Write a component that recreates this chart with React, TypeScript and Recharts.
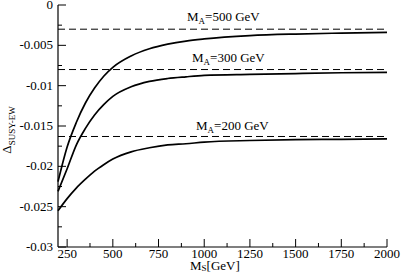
import React from 'react';
import { LineChart, Line, XAxis, YAxis, ReferenceLine } from 'recharts';

const FONT = 'Liberation Serif, DejaVu Serif, serif';
const textStyle = { fontFamily: FONT };

// M_S [GeV]
const MS = [200, 250, 300, 350, 400, 450, 500, 600, 700, 800, 900, 1000, 1250, 1500, 1750, 2000];
// Delta_SUSY-EW for each M_A
const MA500 = [-0.0219, -0.0176, -0.01457, -0.01215, -0.0103, -0.00883, -0.00773, -0.00632, -0.00543, -0.00486, -0.00447, -0.00421, -0.0038, -0.0036, -0.00348, -0.0034];
const MA300 = [-0.0231, -0.0203, -0.01736, -0.0153, -0.01364, -0.01236, -0.01133, -0.01014, -0.00947, -0.00911, -0.0089, -0.00873, -0.0086, -0.0085, -0.0084, -0.00835];
const MA200 = [-0.0255, -0.0240, -0.0227, -0.0216, -0.0206, -0.0198, -0.0191, -0.0182, -0.0177, -0.01735, -0.0172, -0.0170, -0.0168, -0.0167, -0.01665, -0.0166];

// asymptotic values (dashed)
const LIMITS = [
  { mA: '500', value: -0.003, dy: -8 },
  { mA: '300', value: -0.008, dy: -8 },
  { mA: '200', value: -0.0163, dy: -6.5 },
];
const LABEL_X: Record<string, number> = { '500': 187, '300': 192, '200': 196 };

const X_TICKS = [200, 250, 375, 500, 625, 750, 875, 1000, 1125, 1250, 1375, 1500, 1625, 1750, 1875, 2000];
const X_MAJOR = [250, 500, 750, 1000, 1250, 1500, 1750, 2000];
const Y_TICKS = [0, -0.0025, -0.005, -0.0075, -0.01, -0.0125, -0.015, -0.0175, -0.02, -0.0225, -0.025, -0.0275, -0.03];
const Y_MAJOR = [0, -0.005, -0.01, -0.015, -0.02, -0.025, -0.03];

const data = MS.map((ms, i) => ({ ms, a500: MA500[i], a300: MA300[i], a200: MA200[i] }));

const tickLen = (major: boolean) => (major ? 8 : 4);

const BottomTick = ({ x, y, payload }: any) => {
  if (payload.value === 200) return null;
  const major = X_MAJOR.includes(payload.value);
  return (
    <g>
      <line x1={x} x2={x} y1={y} y2={y - tickLen(major)} stroke="#000" />
      {major && (
        <text x={x} y={y + 10.5} textAnchor="middle" style={textStyle} fontSize={13} fill="#000">
          {payload.value}
        </text>
      )}
    </g>
  );
};

const TopTick = ({ x, y, payload }: any) => {
  if (payload.value === 200) return null;
  const major = X_MAJOR.includes(payload.value);
  return <line x1={x} x2={x} y1={y} y2={y + tickLen(major)} stroke="#000" />;
};

const LeftTick = ({ x, y, payload }: any) => {
  const major = Y_MAJOR.includes(payload.value);
  return (
    <g>
      <line x1={x} x2={x + tickLen(major)} y1={y} y2={y} stroke="#000" />
      {major && (
        <text x={x - 5} y={y + 4} textAnchor="end" style={textStyle} fontSize={13} fill="#000">
          {payload.value === 0 ? '0' : String(payload.value)}
        </text>
      )}
    </g>
  );
};

const RightTick = ({ x, y, payload }: any) => {
  const major = Y_MAJOR.includes(payload.value);
  return <line x1={x} x2={x - tickLen(major)} y1={y} y2={y} stroke="#000" />;
};

const MassLabel = ({ viewBox, mA, dy }: any) => (
  <text x={LABEL_X[mA]} y={viewBox.y + dy} style={textStyle} fontSize={13} fill="#000">
    <tspan>M</tspan>
    <tspan fontSize={9} dy={3}>A</tspan>
    <tspan dy={-3}>{`=${mA} GeV`}</tspan>
  </text>
);

const XTitle = () => (
  <text x={190} y={269.5} style={textStyle} fontSize={13} fill="#000">
    <tspan>M</tspan>
    <tspan fontSize={9} dy={1.5}>S</tspan>
    <tspan dy={-1.5}>[GeV]</tspan>
  </text>
);

const YTitle = () => (
  <text
    x={10.5}
    y={130}
    textAnchor="middle"
    transform="rotate(-90, 10.5, 130)"
    style={textStyle}
    fontSize={13}
    fill="#000"
  >
    <tspan>Δ</tspan>
    <tspan fontSize={9} dy={4}>SUSY-EW</tspan>
  </text>
);

export default function App() {
  return (
    <div style={{ position: 'fixed', left: 0, top: 0, background: '#fff' }}>
      <LineChart width={403} height={273} data={data} margin={{ top: 5, right: 16, bottom: 0, left: 0 }}>
        <XAxis
          dataKey="ms"
          type="number"
          domain={[200, 2000]}
          ticks={X_TICKS}
          interval={0}
          height={26}
          tickSize={0}
          tickMargin={0}
          tick={<BottomTick />}
          axisLine={{ stroke: '#000', strokeWidth: 1.2 }}
          label={<XTitle />}
        />
        <XAxis
          xAxisId="top"
          orientation="top"
          dataKey="ms"
          type="number"
          domain={[200, 2000]}
          ticks={X_TICKS}
          interval={0}
          height={0}
          tickSize={0}
          tickMargin={0}
          tick={<TopTick />}
          axisLine={{ stroke: '#000', strokeWidth: 1.2 }}
        />
        <YAxis
          type="number"
          domain={[-0.03, 0]}
          ticks={Y_TICKS}
          interval={0}
          width={58}
          tickSize={0}
          tickMargin={0}
          tick={<LeftTick />}
          axisLine={{ stroke: '#000', strokeWidth: 1.2 }}
          label={<YTitle />}
        />
        <YAxis
          yAxisId="right"
          orientation="right"
          type="number"
          domain={[-0.03, 0]}
          ticks={Y_TICKS}
          interval={0}
          width={0}
          tickSize={0}
          tickMargin={0}
          tick={<RightTick />}
          axisLine={{ stroke: '#000', strokeWidth: 1.2 }}
        />
        {LIMITS.map((l) => (
          <ReferenceLine
            key={l.mA}
            y={l.value}
            stroke="#000"
            strokeWidth={1}
            strokeDasharray="7 4"
            label={<MassLabel mA={l.mA} dy={l.dy} />}
          />
        ))}
        <Line type="monotone" dataKey="a500" stroke="#000" strokeWidth={1.7} dot={false} isAnimationActive={false} />
        <Line type="monotone" dataKey="a300" stroke="#000" strokeWidth={1.7} dot={false} isAnimationActive={false} />
        <Line type="monotone" dataKey="a200" stroke="#000" strokeWidth={1.7} dot={false} isAnimationActive={false} />
      </LineChart>
    </div>
  );
}
